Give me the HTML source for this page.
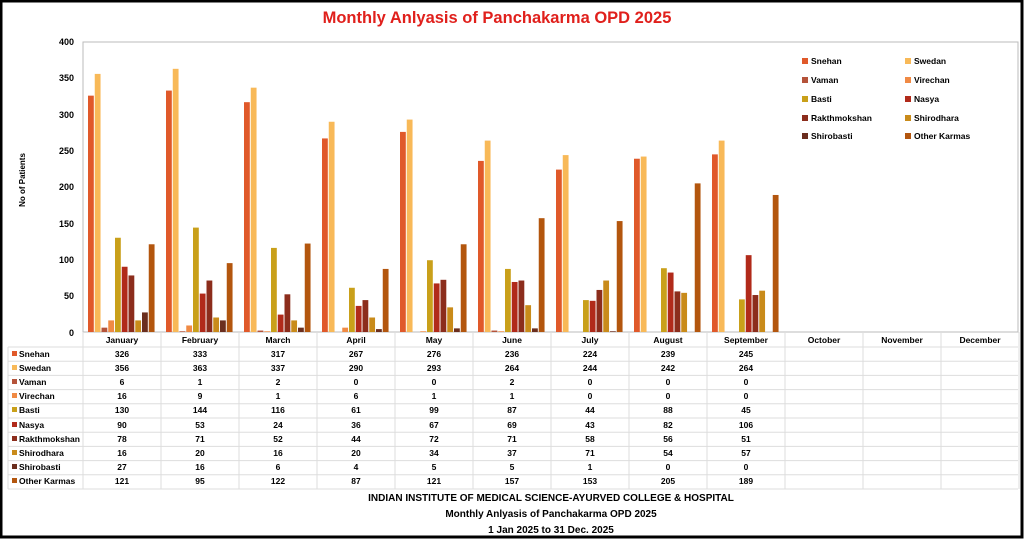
<!DOCTYPE html>
<html><head><meta charset="utf-8"><style>
body{margin:0;background:#fff}
svg{display:block;font-family:"Liberation Sans",sans-serif}
</style></head><body>
<svg id="s" width="1024" height="539" xmlns="http://www.w3.org/2000/svg">
<rect x="1" y="1" width="1021" height="536" fill="#fff" stroke="#000" stroke-width="3"/>
<text x="497" y="23" text-anchor="middle" font-size="16.5" font-weight="bold" fill="#e0201c">Monthly Anlyasis of Panchakarma  OPD 2025</text>
<rect x="83" y="42" width="935" height="290" fill="none" stroke="#bbb"/>
<g font-size="9" font-weight="bold" text-anchor="end" fill="#000">
<text x="74" y="45">400</text><text x="74" y="81">350</text><text x="74" y="118">300</text><text x="74" y="154">250</text><text x="74" y="190">200</text><text x="74" y="227">150</text><text x="74" y="263">100</text><text x="74" y="299">50</text><text x="74" y="336">0</text>
</g>
<text x="25" y="180" font-size="8" font-weight="bold" text-anchor="middle" transform="rotate(-90 25 180)">No of Patients</text>
<g id="bars"></g>
<g id="grid" stroke="#ddd" stroke-width="1"></g>
<g font-size="8.5" font-weight="bold">
<rect x="802" y="58" width="6" height="6" fill="#e0592a"/><text x="811" y="64">Snehan</text>
<rect x="905" y="58" width="6" height="6" fill="#f8b958"/><text x="914" y="64">Swedan</text>
<rect x="802" y="77" width="6" height="6" fill="#b5533a"/><text x="811" y="83">Vaman</text>
<rect x="905" y="77" width="6" height="6" fill="#f08a44"/><text x="914" y="83">Virechan</text>
<rect x="802" y="96" width="6" height="6" fill="#c9a01a"/><text x="811" y="102">Basti</text>
<rect x="905" y="96" width="6" height="6" fill="#b12a1a"/><text x="914" y="102">Nasya</text>
<rect x="802" y="115" width="6" height="6" fill="#8c2d1c"/><text x="811" y="121">Rakthmokshan</text>
<rect x="905" y="115" width="6" height="6" fill="#c98b1a"/><text x="914" y="121">Shirodhara</text>
<rect x="802" y="133" width="6" height="6" fill="#6b2e1e"/><text x="811" y="139">Shirobasti</text>
<rect x="905" y="133" width="6" height="6" fill="#b3560e"/><text x="914" y="139">Other Karmas</text>
</g>
<g font-size="8.5" font-weight="bold" text-anchor="middle">
<text x="122" y="343">January</text><text x="200" y="343">February</text><text x="278" y="343">March</text><text x="356" y="343">April</text><text x="434" y="343">May</text><text x="512" y="343">June</text><text x="590" y="343">July</text><text x="668" y="343">August</text><text x="746" y="343">September</text><text x="824" y="343">October</text><text x="902" y="343">November</text><text x="980" y="343">December</text>
</g>
<g font-size="8.5" font-weight="bold">
<rect x="12" y="351" width="5" height="5" fill="#e0592a"/><text x="19" y="357">Snehan</text>
<rect x="12" y="365" width="5" height="5" fill="#f8b958"/><text x="19" y="371">Swedan</text>
<rect x="12" y="379" width="5" height="5" fill="#b5533a"/><text x="19" y="385">Vaman</text>
<rect x="12" y="393" width="5" height="5" fill="#f08a44"/><text x="19" y="399">Virechan</text>
<rect x="12" y="407" width="5" height="5" fill="#c9a01a"/><text x="19" y="413">Basti</text>
<rect x="12" y="422" width="5" height="5" fill="#b12a1a"/><text x="19" y="428">Nasya</text>
<rect x="12" y="436" width="5" height="5" fill="#8c2d1c"/><text x="19" y="442">Rakthmokshan</text>
<rect x="12" y="450" width="5" height="5" fill="#c98b1a"/><text x="19" y="456">Shirodhara</text>
<rect x="12" y="464" width="5" height="5" fill="#6b2e1e"/><text x="19" y="470">Shirobasti</text>
<rect x="12" y="478" width="5" height="5" fill="#b3560e"/><text x="19" y="484">Other Karmas</text>
</g>
<g font-size="8.5" font-weight="bold" text-anchor="middle">
<text x="122" y="357">326</text><text x="200" y="357">333</text><text x="278" y="357">317</text><text x="356" y="357">267</text><text x="434" y="357">276</text><text x="512" y="357">236</text><text x="590" y="357">224</text><text x="668" y="357">239</text><text x="746" y="357">245</text>
<text x="122" y="371">356</text><text x="200" y="371">363</text><text x="278" y="371">337</text><text x="356" y="371">290</text><text x="434" y="371">293</text><text x="512" y="371">264</text><text x="590" y="371">244</text><text x="668" y="371">242</text><text x="746" y="371">264</text>
<text x="122" y="385">6</text><text x="200" y="385">1</text><text x="278" y="385">2</text><text x="356" y="385">0</text><text x="434" y="385">0</text><text x="512" y="385">2</text><text x="590" y="385">0</text><text x="668" y="385">0</text><text x="746" y="385">0</text>
<text x="122" y="399">16</text><text x="200" y="399">9</text><text x="278" y="399">1</text><text x="356" y="399">6</text><text x="434" y="399">1</text><text x="512" y="399">1</text><text x="590" y="399">0</text><text x="668" y="399">0</text><text x="746" y="399">0</text>
<text x="122" y="413">130</text><text x="200" y="413">144</text><text x="278" y="413">116</text><text x="356" y="413">61</text><text x="434" y="413">99</text><text x="512" y="413">87</text><text x="590" y="413">44</text><text x="668" y="413">88</text><text x="746" y="413">45</text>
<text x="122" y="428">90</text><text x="200" y="428">53</text><text x="278" y="428">24</text><text x="356" y="428">36</text><text x="434" y="428">67</text><text x="512" y="428">69</text><text x="590" y="428">43</text><text x="668" y="428">82</text><text x="746" y="428">106</text>
<text x="122" y="442">78</text><text x="200" y="442">71</text><text x="278" y="442">52</text><text x="356" y="442">44</text><text x="434" y="442">72</text><text x="512" y="442">71</text><text x="590" y="442">58</text><text x="668" y="442">56</text><text x="746" y="442">51</text>
<text x="122" y="456">16</text><text x="200" y="456">20</text><text x="278" y="456">16</text><text x="356" y="456">20</text><text x="434" y="456">34</text><text x="512" y="456">37</text><text x="590" y="456">71</text><text x="668" y="456">54</text><text x="746" y="456">57</text>
<text x="122" y="470">27</text><text x="200" y="470">16</text><text x="278" y="470">6</text><text x="356" y="470">4</text><text x="434" y="470">5</text><text x="512" y="470">5</text><text x="590" y="470">1</text><text x="668" y="470">0</text><text x="746" y="470">0</text>
<text x="122" y="484">121</text><text x="200" y="484">95</text><text x="278" y="484">122</text><text x="356" y="484">87</text><text x="434" y="484">121</text><text x="512" y="484">157</text><text x="590" y="484">153</text><text x="668" y="484">205</text><text x="746" y="484">189</text>
</g>
<g font-size="10" font-weight="bold" text-anchor="middle">
<text x="551" y="501">INDIAN INSTITUTE OF MEDICAL SCIENCE-AYURVED COLLEGE &amp; HOSPITAL</text>
<text x="551" y="517">Monthly Anlyasis of Panchakarma  OPD 2025</text>
<text x="551" y="533">1 Jan 2025 to 31 Dec. 2025</text>
</g>
</svg>
<script>
var d=[[326,356,6,16,130,90,78,16,27,121],[333,363,1,9,144,53,71,20,16,95],[317,337,2,1,116,24,52,16,6,122],[267,290,0,6,61,36,44,20,4,87],[276,293,0,1,99,67,72,34,5,121],[236,264,2,1,87,69,71,37,5,157],[224,244,0,0,44,43,58,71,1,153],[239,242,0,0,88,82,56,54,0,205],[245,264,0,0,45,106,51,57,0,189]];
var c=["#e0592a","#f8b958","#b5533a","#f08a44","#c9a01a","#b12a1a","#8c2d1c","#c98b1a","#6b2e1e","#b3560e"];
var ns="http://www.w3.org/2000/svg",b=document.getElementById("bars"),g=document.getElementById("grid");
function el(p,t,a){var e=document.createElementNS(ns,t);for(var k in a)e.setAttribute(k,a[k]);p.appendChild(e);}
d.forEach(function(r,i){r.forEach(function(v,j){var h=v*0.725;el(b,"rect",{x:88+i*78+j*6.75,y:332-h,width:5.8,height:h,fill:c[j]});});});
for(var k=0;k<=12;k++)el(g,"line",{x1:83+k*78,y1:332,x2:83+k*78,y2:489});
for(var r=0;r<11;r++){var y=347+r*14.2;el(g,"line",{x1:8,y1:y,x2:1018,y2:y});}
el(g,"line",{x1:8,y1:347,x2:8,y2:489});
</script>
</body></html>
